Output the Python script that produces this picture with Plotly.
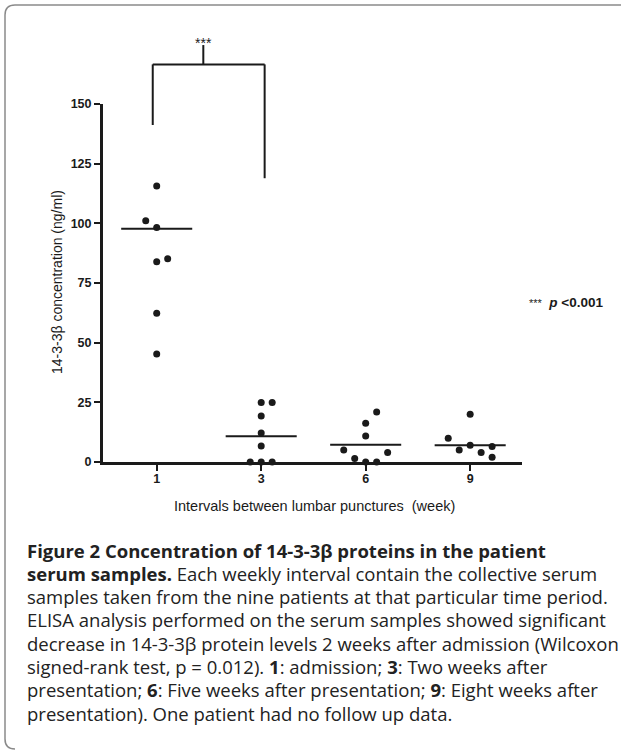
import plotly.graph_objects as go

# ---------------- data ----------------
categories = ["1", "3", "6", "9"]
values = [
    [115.6, 101.1, 98.3, 85.2, 83.9, 62.3, 45.2],
    [24.9, 24.9, 19.3, 12.2, 6.7, 0, 0, 0],
    [21.0, 16.2, 10.9, 5.0, 4.0, 1.5, 0, 0],
    [20.0, 10.0, 7.0, 6.5, 5.0, 4.0, 2.0],
]
# horizontal dot slots (scatter-dot-plot column slots)
slots = [
    [0, -1, 0, 1, 0, 0, 0],
    [0, 1, 0, 0, 0, -1, 0, 1],
    [1, 0, 0, -2, 2, -1, 0, 1],
    [0, -2, 0, 2, -1, 1, 2],
]
means = [97.7, 10.8, 7.2, 7.0]
yticks = [0, 25, 50, 75, 100, 125, 150]

caption_lines = [
    "<b>Figure 2 Concentration of 14-3-3β proteins in the patient</b>",
    "<b>serum samples.</b> Each weekly interval contain the collective serum",
    "samples taken from the nine patients at that particular time period.",
    "ELISA analysis performed on the serum samples showed significant",
    "decrease in 14-3-3β protein levels 2 weeks after admission (Wilcoxon",
    "signed-rank test, p = 0.012). <b>1</b>: admission; <b>3</b>: Two weeks after",
    "presentation; <b>6</b>: Five weeks after presentation; <b>9</b>: Eight weeks after",
    "presentation). One patient had no follow up data.",
]

# ---------------- layout constants ----------------
W, H = 625, 752
ML, MR, MT, MB = 103, 103, 104, 290
PW, PH = W - ML - MR, H - MT - MB
SLOT = 0.105
HALF = 0.34
XR = [-0.514, 3.496]
YR = [0, 150]
INK = "#1a1a1a"


def py(pix):  # pixel y -> paper y
    return (H - MB - pix) / PH


def px(pix):  # pixel x -> paper x
    return (pix - ML) / PW


fig = go.Figure()

for i, (vals, sl) in enumerate(zip(values, slots)):
    fig.add_trace(go.Scatter(
        x=[i + s * SLOT for s in sl], y=vals, mode="markers",
        marker=dict(size=7, color=INK), cliponaxis=False,
        showlegend=False, hoverinfo="skip"))
    fig.add_trace(go.Scatter(
        x=[i - HALF, i + HALF], y=[means[i], means[i]], mode="lines",
        line=dict(color=INK, width=2), showlegend=False, hoverinfo="skip"))

axis_font = dict(family="Liberation Sans, Arial", size=12.5, color=INK)

fig.update_xaxes(range=XR, tickvals=list(range(len(categories))), ticktext=[f"<b>{c}</b>" for c in categories],
                 showline=True, linewidth=3, linecolor=INK, ticks="outside", ticklen=6,
                 tickwidth=2, tickcolor=INK, showgrid=False, zeroline=False,
                 tickfont=axis_font, fixedrange=True, ticklabelstandoff=-3)
fig.update_yaxes(range=YR, tickvals=yticks, ticktext=[f"<b>{t}</b>" for t in yticks],
                 showline=True, linewidth=3, linecolor=INK, ticks="outside", ticklen=6,
                 tickwidth=2, tickcolor=INK, showgrid=False, zeroline=False,
                 tickfont=axis_font, fixedrange=True)

shapes = []
# significance bracket (x in axis units, y in value units converted to paper)
b_left, b_right, b_mid = -0.038, 1.033, 0.446
b_top, b_bar, b_leg_l, b_leg_r = 174.7, 166.6, 141.2, 118.9
for (x0, y0, x1, y1) in [
    (b_left, b_leg_l, b_left, b_bar), (b_right, b_leg_r, b_right, b_bar),
    (b_left, b_bar, b_right, b_bar), (b_mid, b_bar, b_mid, b_top)]:
    shapes.append(dict(type="line", xref="x", yref="paper", x0=x0, x1=x1,
                       y0=y0 / YR[1], y1=y1 / YR[1], line=dict(color=INK, width=2)))

# rounded frame around the figure (pixel positions converted to paper coords)
r = 10
x0p, x1p, y0p, y1p = 5, 621, 5, 749


def pp(xp, yp):
    return f"{px(xp):.5f},{py(yp):.5f}"


path = (f"M {pp(x1p, y0p)} L {pp(x0p + r, y0p)} Q {pp(x0p, y0p)} {pp(x0p, y0p + r)} "
        f"L {pp(x0p, y1p - r)} Q {pp(x0p, y1p)} {pp(x0p + r, y1p)}")
shapes.append(dict(type="path", xref="paper", yref="paper", path=path,
                   line=dict(color="#8a8a8a", width=1.5)))

annotations = [
    dict(text="***", xref="x", yref="paper", x=b_mid, y=py(33), showarrow=False,
         font=dict(family="Liberation Sans, Arial", size=14, color=INK)),
    dict(text="<span style='font-size:11px'>***</span>  <b><i>p</i> <0.001</b>", xref="paper", yref="paper",
         x=px(527), y=py(302), xanchor="left", showarrow=False,
         font=dict(family="Liberation Sans, Arial", size=13.5, color=INK)),
    dict(text="14-3-3β concentration (ng/ml)", xref="paper", yref="paper", x=px(47), y=py(282),
         textangle=-90, showarrow=False,
         font=dict(family="Liberation Sans, Arial", size=14, color=INK)),
    dict(text="Intervals between lumbar punctures  (week)", xref="paper", yref="paper",
         x=px(314), y=py(516), showarrow=False,
         font=dict(family="Liberation Sans, Arial", size=14.5, color=INK)),
]
for k, line in enumerate(caption_lines):
    annotations.append(dict(text=line, xref="paper", yref="paper", x=px(25), y=py(550 + 23.3 * k),
                            xanchor="left", yanchor="middle", showarrow=False,
                            font=dict(family="Open Sans, Noto Sans", size=18.5, color="#222222")))

fig.update_layout(width=W, height=H, margin=dict(l=ML, r=MR, t=MT, b=MB),
                  paper_bgcolor="white", plot_bgcolor="white",
                  shapes=shapes, annotations=annotations)

fig.write_html("out.html", config={"displayModeBar": False},
               post_script="document.body.style.margin='0px';")
